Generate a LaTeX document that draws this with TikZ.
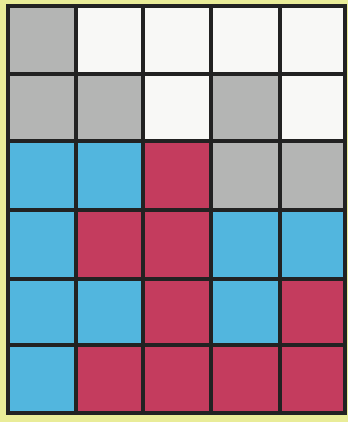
\documentclass[tikz,border=0pt]{standalone}
\definecolor{bgy}{HTML}{E9EC98}
\definecolor{cg}{HTML}{B4B5B4}
\definecolor{cw}{HTML}{F8F8F6}
\definecolor{cb}{HTML}{52B6DE}
\definecolor{cr}{HTML}{C43C5E}
\definecolor{ln}{HTML}{222222}
\begin{document}
\begin{tikzpicture}[x=1pt,y=-1pt,
  gridline/.style={draw=ln,line width=4.5pt}]
\fill[bgy] (0,0) rectangle (348,422);
\useasboundingbox (0,0) rectangle (348,422);
\def\xs{{8,76,143,211,280,345}}
\def\ys{{6,74,141,210,279,345,413}}
% colours by row
\def\rowa{{"cg","cw","cw","cw","cw"}}
\foreach \r/\cols in {0/{cg,cw,cw,cw,cw},1/{cg,cg,cw,cg,cw},2/{cb,cb,cr,cg,cg},3/{cb,cr,cr,cb,cb},4/{cb,cb,cr,cb,cr},5/{cb,cr,cr,cr,cr}}{
  \foreach \c [count=\i from 0] in \cols {
    \pgfmathsetmacro{\xa}{\xs[\i]}
    \pgfmathsetmacro{\xb}{\xs[\i+1]}
    \pgfmathsetmacro{\ya}{\ys[\r]}
    \pgfmathsetmacro{\yb}{\ys[\r+1]}
    \fill[\c] (\xa,\ya) rectangle (\xb,\yb);
  }
}
\foreach \i in {0,...,5}{
  \pgfmathsetmacro{\xx}{\xs[\i]}
  \draw[gridline] (\xx,6) -- (\xx,413);
}
\foreach \j in {0,...,6}{
  \pgfmathsetmacro{\yy}{\ys[\j]}
  \draw[gridline] (8,\yy) -- (345,\yy);
}
\draw[gridline,line cap=rect] (8,6) rectangle (345,413);
\end{tikzpicture}
\end{document}
